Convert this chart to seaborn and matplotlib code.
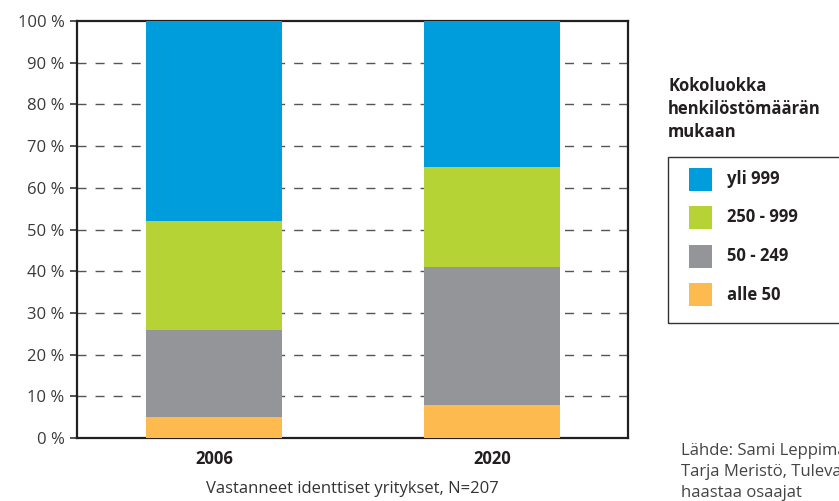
import matplotlib
matplotlib.use("Agg")
import matplotlib.pyplot as plt
import seaborn as sns
import pandas as pd
import numpy as np
from matplotlib.patches import Rectangle

# ---- data ----
years = ["2006", "2020"]
series_names = ["alle 50", "50 - 249", "250 - 999", "yli 999"]
alle_50 = [5, 8]
v50_249 = [21, 33]
v250_999 = [26, 24]
yli_999 = [48, 35]
series_values = [alle_50, v50_249, v250_999, yli_999]
colors = ["#FDBB4F", "#939598", "#B5D334", "#009DDC"]
y_ticks = list(range(0, 101, 10))
y_tick_labels = [f"{v} %" for v in y_ticks]
legend_title = "Kokoluokka\nhenkilöstömäärän\nmukaan"
xlabel = "Vastanneet identtiset yritykset, N=207"
source_lines = ["Lähde: Sami Leppimäki, Jarmo Ruohonen,",
                "Tarja Meristö, Tulevaisuus",
                "haastaa osaajat"]

sns.set_style("white")
plt.rcParams['font.family'] = ['Open Sans', 'DejaVu Sans']
TXT = "#231f20"

fig = plt.figure(figsize=(8.39, 5.01), dpi=100)
ax = fig.add_axes([77/839, 1-438/501, (628-77)/839, (438-21)/501])

# cumulative stacks, draw tallest first
cum = np.cumsum(np.array(series_values), axis=0)
for i in range(len(series_names)-1, -1, -1):
    df = pd.DataFrame({"year": years, "value": cum[i]})
    sns.barplot(data=df, x="year", y="value", color=colors[i], width=0.49,
                saturation=1, ax=ax, zorder=3, linewidth=0, errorbar=None)

ax.set_xlim(-0.493, 1.489)
ax.set_ylim(0, 100)
ax.set_yticks(y_ticks)
ax.set_yticklabels(y_tick_labels, fontsize=12, color="#3a3a3a")
ax.set_xticks([0, 1])
ax.set_xticklabels(years, fontsize=12, fontweight="bold", color=TXT)
ax.set_xticks([-0.493, 0.5, 1.489], minor=True)
ax.tick_params(axis="x", which="major", length=0, pad=9)
ax.tick_params(axis="x", which="minor", direction="inout", length=7, width=1.5, color=TXT)
ax.tick_params(axis="y", which="major", direction="out", length=5, width=1.2,
               color="#333333", pad=4, left=True)
ax.set_xlabel(xlabel, fontsize=12, color="#333333", labelpad=9)
ax.set_ylabel("")

for v in y_ticks[1:-1]:
    ax.axhline(v, color="#555555", lw=1.0, ls=(0, (6.5, 6.5)), zorder=1)

for s in ax.spines.values():
    s.set_visible(True)
    s.set_color(TXT)
    s.set_linewidth(1.6)

# legend (manual)
fig.text(668/839, 1-77/501, legend_title, fontsize=12, fontweight="bold",
         color=TXT, va="top", ha="left", linespacing=1.35)
fig.patches.append(Rectangle((668/839, 1-323/501), 200/839, (323-157)/501,
                             transform=fig.transFigure, fill=False,
                             edgecolor="#333333", lw=1.0))
for k, i in enumerate(range(len(series_names)-1, -1, -1)):
    yc = 179 + k*38.5
    fig.patches.append(Rectangle((689/839, 1-(yc+11.5)/501), 23/839, 23/501,
                                 transform=fig.transFigure, facecolor=colors[i],
                                 edgecolor="none"))
    fig.text(727/839, 1-yc/501, series_names[i], fontsize=12, fontweight="bold",
             color=TXT, va="center", ha="left")

fig.text(681/839, 1-443/501, "\n".join(source_lines), fontsize=12,
         color="#444444", va="top", ha="left", linespacing=1.42)

fig.savefig("out.png", dpi=100)
